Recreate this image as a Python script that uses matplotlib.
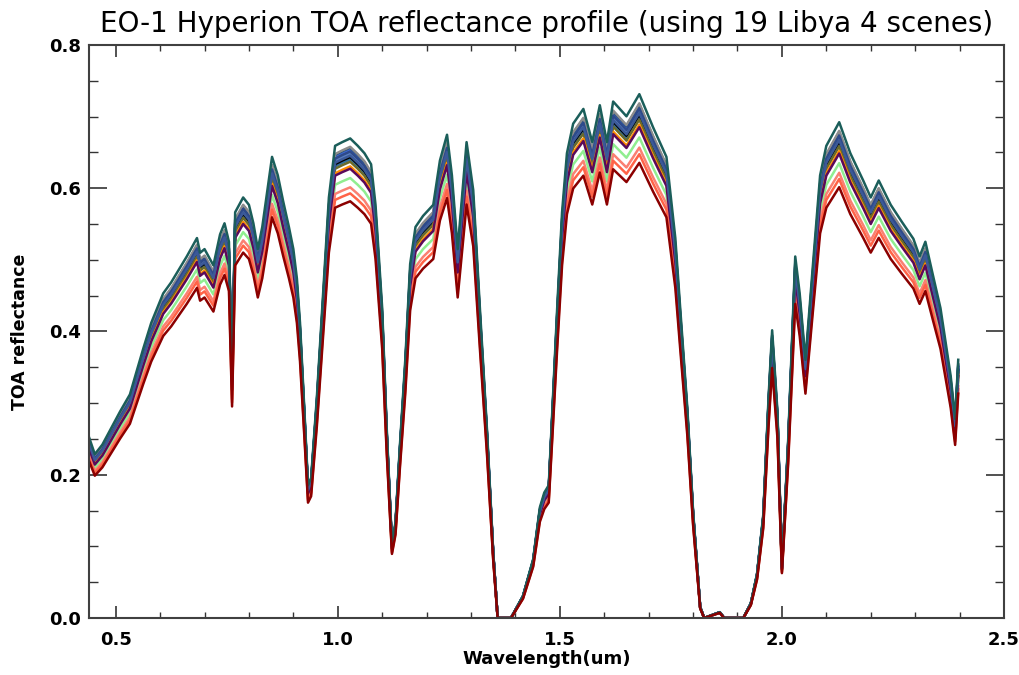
import numpy as np
import matplotlib.pyplot as plt
from matplotlib.ticker import MultipleLocator

# wavelength (um) of the read-off points
wavelength = [
    0.440, 0.453, 0.470, 0.494, 0.510, 0.532, 0.545, 0.562, 0.580, 0.607,
    0.625, 0.645, 0.660, 0.683, 0.690, 0.700, 0.720, 0.735, 0.745, 0.755,
    0.762, 0.769, 0.787, 0.800, 0.810, 0.820, 0.830, 0.852, 0.865, 0.877,
    0.890, 0.900, 0.908, 0.915, 0.925, 0.933, 0.940, 0.953, 0.967, 0.980,
    0.994, 1.010, 1.028, 1.045, 1.060, 1.075, 1.085, 1.100, 1.110, 1.122,
    1.130, 1.140, 1.152, 1.163, 1.175, 1.192, 1.215, 1.230, 1.246, 1.257,
    1.270, 1.290, 1.305, 1.320, 1.336, 1.350, 1.360, 1.390, 1.417, 1.440,
    1.455, 1.465, 1.475, 1.483, 1.494, 1.505, 1.516, 1.530, 1.553, 1.573,
    1.590, 1.606, 1.620, 1.650, 1.679, 1.710, 1.740, 1.760, 1.771, 1.787,
    1.800, 1.816, 1.825, 1.860, 1.870, 1.913, 1.930, 1.944, 1.958, 1.970,
    1.978, 1.990, 2.000, 2.014, 2.030, 2.040, 2.053, 2.070, 2.086, 2.100,
    2.129, 2.154, 2.183, 2.200, 2.218, 2.245, 2.270, 2.296, 2.310, 2.323,
    2.341, 2.357, 2.380, 2.390, 2.397,
]

# typical (middle of the bundle) TOA reflectance
reflectance = [
    0.245, 0.222, 0.235, 0.262, 0.280, 0.303, 0.330, 0.365, 0.400, 0.440,
    0.455, 0.475, 0.490, 0.515, 0.495, 0.500, 0.478, 0.520, 0.535, 0.510,
    0.330, 0.550, 0.570, 0.560, 0.535, 0.500, 0.530, 0.625, 0.600, 0.565,
    0.530, 0.500, 0.460, 0.400, 0.280, 0.180, 0.190, 0.300, 0.440, 0.570,
    0.640, 0.645, 0.650, 0.640, 0.630, 0.615, 0.560, 0.420, 0.260, 0.100,
    0.130, 0.235, 0.350, 0.480, 0.530, 0.545, 0.560, 0.620, 0.655, 0.600,
    0.500, 0.645, 0.580, 0.420, 0.255, 0.090, 0.000, 0.000, 0.030, 0.080,
    0.150, 0.170, 0.180, 0.280, 0.420, 0.550, 0.630, 0.670, 0.690, 0.645,
    0.695, 0.645, 0.700, 0.680, 0.710, 0.665, 0.625, 0.515, 0.420, 0.285,
    0.145, 0.015, 0.000, 0.008, 0.000, 0.000, 0.020, 0.060, 0.140, 0.300,
    0.390, 0.280, 0.070, 0.240, 0.490, 0.440, 0.350, 0.480, 0.600, 0.640,
    0.672, 0.630, 0.593, 0.570, 0.593, 0.560, 0.537, 0.514, 0.490, 0.510,
    0.462, 0.420, 0.328, 0.270, 0.350,
]

# brightness of each of the 19 scenes relative to the typical profile
scene_gain = [
    1.000, 0.990, 1.005, 0.995, 0.985, 1.010, 0.998, 1.012, 0.990, 0.980,
    0.970, 0.945, 0.925, 0.912, 0.965, 1.002, 0.993, 1.030, 0.895,
]

scene_color = [
    '#00008b', '#1e3fa0', '#4169e1', '#4682b4', '#2f6f9f', '#1f4e79',
    '#5a7fbf', '#8c8c8c', '#000000', '#6b6b2a', '#ff8c00', '#90ee90',
    '#fa8072', '#ff6347', '#5a0a5a', '#2e4a8a', '#3b5998', '#1b5e5a',
    '#8b0000',
]

wl = np.array(wavelength)
base = np.array(reflectance)

fig = plt.figure(figsize=(10.2, 6.75), dpi=100)
ax = fig.add_axes([0.0873, 0.0844, 0.897, 0.849])

for gain, color in zip(scene_gain, scene_color):
    ax.plot(wl, base * gain, color=color, lw=1.8)

ax.set_xlim(0.44, 2.5)
ax.set_ylim(0.0, 0.8)

ax.xaxis.set_major_locator(MultipleLocator(0.5))
ax.xaxis.set_minor_locator(MultipleLocator(0.1))
ax.yaxis.set_major_locator(MultipleLocator(0.2))
ax.yaxis.set_minor_locator(MultipleLocator(0.05))
ax.xaxis.set_major_formatter(plt.FormatStrFormatter('%.1f'))
ax.yaxis.set_major_formatter(plt.FormatStrFormatter('%.1f'))

ax.tick_params(axis='x', which='major', direction='in', length=8.3, width=1.2,
               top=True, pad=9, labelsize=13, color='#333333')
ax.tick_params(axis='x', which='minor', direction='in', length=4.1, width=1.0,
               top=True, color='#333333')
ax.tick_params(axis='y', which='major', direction='in', length=13.2, width=1.2,
               right=True, pad=6, labelsize=13, color='#333333')
ax.tick_params(axis='y', which='minor', direction='in', length=6.6, width=1.0,
               right=True, color='#333333')
for lab in ax.get_xticklabels() + ax.get_yticklabels():
    lab.set_fontweight('bold')

for sp in ax.spines.values():
    sp.set_linewidth(1.5)
    sp.set_color('#404040')

ax.set_title('EO-1 Hyperion TOA reflectance profile (using 19 Libya 4 scenes)',
             fontsize=20, pad=9)
ax.set_xlabel('Wavelength(um)', fontsize=13, fontweight='bold', labelpad=1)
ax.set_ylabel('TOA reflectance', fontsize=12.5, fontweight='bold', labelpad=14)

fig.savefig('out.png', dpi=100)
